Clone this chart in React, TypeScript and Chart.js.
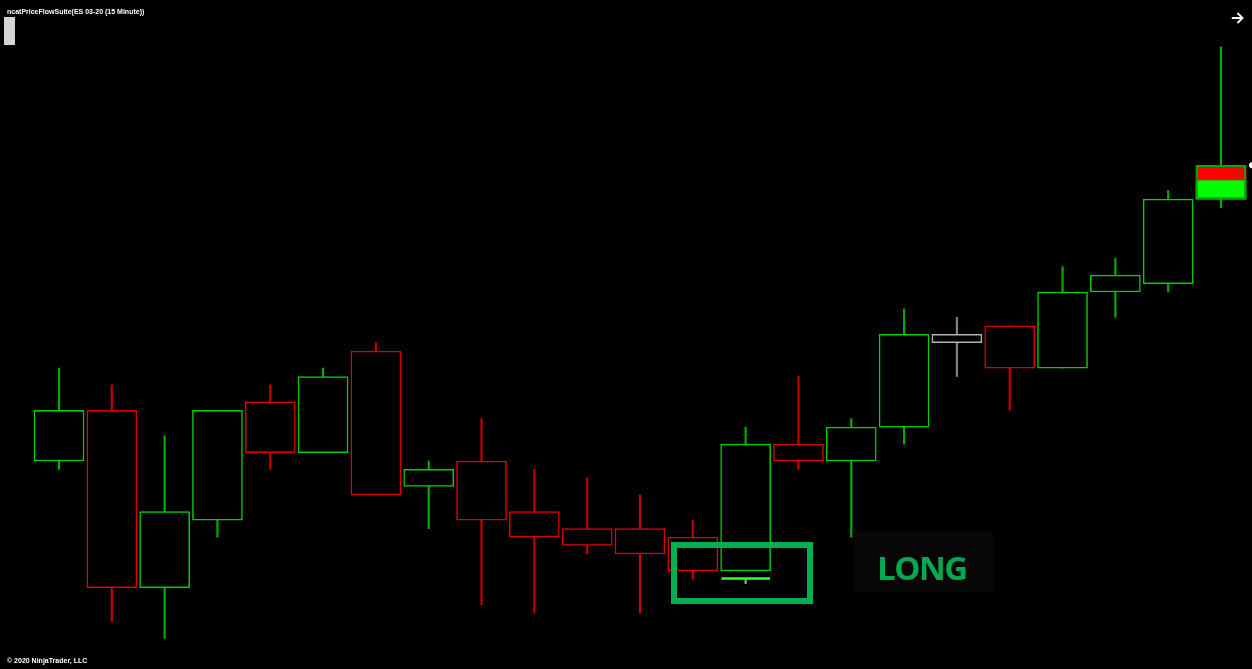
import React, { useEffect, useRef } from "react";
import { Chart, registerables } from "chart.js";

Chart.register(...registerables);

// ---- Data (ES 03-20, 15 minute bars) ----
const opens = [3288.5, 3290.0, 3284.75, 3286.75, 3290.25, 3288.75, 3291.75, 3287.75, 3288.5, 3287.0, 3286.5, 3286.5, 3286.25, 3285.25, 3289.0, 3288.5, 3289.5, 3292.25, 3292.5, 3291.25, 3293.5, 3293.75, 3296.25];
const highs = [3291.25, 3290.75, 3289.25, 3290.0, 3290.75, 3291.25, 3292.0, 3288.5, 3289.75, 3288.25, 3288.0, 3287.5, 3286.75, 3289.5, 3291.0, 3289.75, 3293.0, 3292.75, 3292.5, 3294.25, 3294.5, 3296.5, 3300.75];
const lows = [3288.25, 3283.75, 3283.25, 3286.25, 3288.25, 3288.75, 3287.5, 3286.5, 3284.25, 3284.0, 3285.75, 3284.0, 3285.0, 3285.25, 3288.25, 3286.25, 3289.0, 3291.0, 3290.0, 3291.25, 3292.75, 3293.5, 3296.0];
const closes = [3290.0, 3284.75, 3287.0, 3290.0, 3288.75, 3291.0, 3287.5, 3288.25, 3286.75, 3286.25, 3286.0, 3285.75, 3285.25, 3289.0, 3288.5, 3289.5, 3292.25, 3292.0, 3291.25, 3293.5, 3294.0, 3296.25, 3297.25];
const barBias = ["buy", "sell", "buy", "buy", "sell", "buy", "sell", "buy", "sell", "sell", "sell", "sell", "sell", "buy", "sell", "buy", "buy", "neutral", "sell", "buy", "buy", "buy", "buy"];

// live (last) bar split between buying and selling fill
const liveBarSplit = 3296.8;

// long signal marker
const signalIndex = 13;
const signalPrice = 3285.0;
const signalTickLow = 3284.875;

// visible ranges
const xMin = -1.117;
const xMax = 22.587;
const yMin = 3282.346;
const yMax = 3302.139;

const bodyColor: Record<string, string> = { buy: "#00d000", sell: "#e00000", neutral: "#b4b4b4" };
const wickColor: Record<string, string> = { buy: "#00b000", sell: "#c80000", neutral: "#808080" };

export default function App() {
  const ref = useRef<HTMLCanvasElement>(null);

  useEffect(() => {
    const idx = opens.map((_, i) => i);
    const last = opens.length - 1;
    const chart = new Chart(ref.current!, {
      type: "bar",
      data: {
        datasets: [
          {
            label: "wick",
            data: idx.map((i) => ({ x: i, y: [lows[i], highs[i]] })) as any,
            backgroundColor: idx.map((i) => wickColor[barBias[i]]),
            barThickness: 1.5,
            grouped: false,
            order: 4,
          } as any,
          {
            label: "buyFill",
            data: [{ x: last, y: [opens[last], liveBarSplit] }] as any,
            backgroundColor: "#00ff00",
            barThickness: 50,
            grouped: false,
            order: 3,
          } as any,
          {
            label: "sellFill",
            data: [{ x: last, y: [liveBarSplit, closes[last]] }] as any,
            backgroundColor: "#ff0000",
            barThickness: 50,
            grouped: false,
            order: 3,
          } as any,
          {
            label: "body",
            data: idx.map((i) => ({ x: i, y: [opens[i], closes[i]] })) as any,
            backgroundColor: idx.map((i) => (i === last ? "rgba(0,0,0,0)" : "#000000")),
            borderColor: idx.map((i) => (i === last ? "#00a800" : bodyColor[barBias[i]])),
            borderWidth: 1.5,
            borderSkipped: false,
            barThickness: 50,
            grouped: false,
            order: 2,
          } as any,
          {
            label: "signal",
            data: [{ x: signalIndex, y: [signalPrice, signalPrice] }] as any,
            backgroundColor: "#33ff33",
            minBarLength: 1.6,
            barThickness: 48,
            grouped: false,
            order: 1,
          } as any,
          {
            label: "signalTick",
            data: [{ x: signalIndex, y: [signalTickLow, signalPrice] }] as any,
            backgroundColor: "#33ff33",
            barThickness: 1.5,
            grouped: false,
            order: 1,
          } as any,
          {
            type: "scatter",
            label: "lastPrice",
            data: [{ x: xMax, y: closes[last] }],
            pointRadius: 3,
            backgroundColor: "#ffffff",
            borderWidth: 0,
            clip: false,
            order: 0,
          } as any,
        ],
      },
      options: {
        animation: false,
        responsive: true,
        maintainAspectRatio: false,
        layout: { padding: 0, autoPadding: false },
        events: [],
        plugins: { legend: { display: false }, tooltip: { enabled: false } },
        scales: {
          x: { type: "linear", min: xMin, max: xMax, offset: false, display: false },
          y: { type: "linear", min: yMin, max: yMax, offset: false, display: false },
        },
      } as any,
    });
    return () => chart.destroy();
  }, []);

  const smallText: React.CSSProperties = {
    position: "absolute",
    left: 7,
    color: "#ffffff",
    fontFamily: "'Liberation Sans', Arial, sans-serif",
    fontWeight: "bold",
    fontSize: 7,
    lineHeight: "7px",
    whiteSpace: "nowrap",
  };

  return (
    <div
      style={{
        position: "fixed",
        left: 0,
        top: 0,
        width: 1252,
        height: 669,
        background: "#000000",
        overflow: "hidden",
      }}
    >
      <div style={{ position: "absolute", left: 0, top: 0, width: 1252, height: 669 }}>
        <canvas ref={ref} />
      </div>
      <div style={{ ...smallText, top: 8.2 }}>ncatPriceFlowSuite(ES 03-20 (15 Minute))</div>
      <div style={{ ...smallText, top: 657 }}>© 2020 NinjaTrader, LLC</div>
      <div style={{ position: "absolute", left: 4, top: 17, width: 11, height: 28, background: "#d4d4d4" }} />
      <svg style={{ position: "absolute", left: 0, top: 0 }} width={1252} height={669}>
        <g stroke="#ffffff" strokeWidth={1.8} fill="none" strokeLinecap="round">
          <line x1={1232.5} y1={18} x2={1242} y2={18} />
          <polyline points="1238,13.5 1242.5,18 1238,22.5" />
        </g>
      </svg>
      <div
        style={{
          position: "absolute",
          left: 855,
          top: 532,
          width: 138,
          height: 60,
          background: "#070707",
        }}
      >
        <span
          style={{
            position: "absolute",
            left: 22,
            top: 18.7,
            color: "#00a850",
            fontFamily: "'Open Sans', sans-serif",
            fontWeight: 700,
            fontSize: 33,
            lineHeight: "33px",
            letterSpacing: "-1.5px",
            whiteSpace: "nowrap",
          }}
        >
          LONG
        </span>
      </div>
      <div
        style={{
          position: "absolute",
          left: 671,
          top: 542,
          width: 142,
          height: 62,
          border: "6px solid #00b050",
          boxSizing: "border-box",
        }}
      />
    </div>
  );
}
